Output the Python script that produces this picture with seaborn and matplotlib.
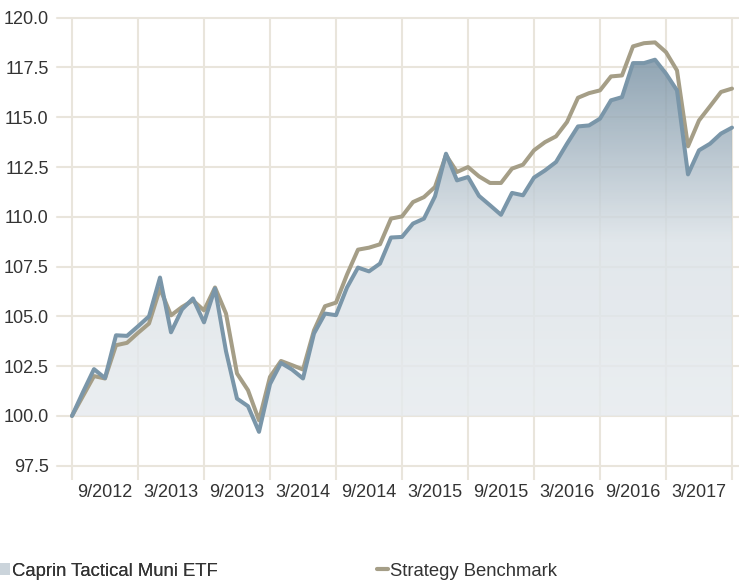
"""
Caprin Tactical Muni ETF vs Strategy Benchmark (growth of 100)
"""

import numpy as np
import pandas as pd
import matplotlib
matplotlib.use("Agg")
import matplotlib.pyplot as plt
import seaborn as sns
from matplotlib.colors import LinearSegmentedColormap
from matplotlib.patches import Patch
from matplotlib.lines import Line2D

# === Data (monthly, 6/2012 .. 6/2017) ===
months = list(range(61))
etf = [
    100.0, 101.2, 102.35, 101.9, 104.05, 104.02, 104.5, 105.0, 106.95, 104.2,
    105.35, 105.9, 104.7, 106.4, 103.25, 100.87, 100.49, 99.2, 101.6, 102.66,
    102.33, 101.88, 104.14, 105.14, 105.06, 106.45, 107.45, 107.26, 107.65, 108.96,
    108.99, 109.66, 109.91, 111.03, 113.17, 111.83, 112.0, 111.05, 110.58, 110.1,
    111.2, 111.08, 111.97, 112.33, 112.75, 113.67, 114.54, 114.59, 114.93, 115.85,
    116.01, 117.72, 117.72, 117.89, 117.19, 116.35, 112.13, 113.34, 113.67, 114.18,
    114.48,
]
benchmark = [
    100.0, 101.0, 102.0, 101.88, 103.55, 103.67, 104.17, 104.64, 106.4, 105.05,
    105.47, 105.8, 105.3, 106.45, 105.14, 102.13, 101.29, 99.78, 101.96, 102.76,
    102.55, 102.33, 104.3, 105.51, 105.69, 107.1, 108.35, 108.45, 108.62, 109.91,
    110.02, 110.74, 110.99, 111.5, 113.1, 112.25, 112.5, 112.03, 111.7, 111.7,
    112.42, 112.62, 113.34, 113.75, 114.04, 114.76, 115.98, 116.21, 116.35, 117.05,
    117.1, 118.56, 118.72, 118.76, 118.27, 117.35, 113.54, 114.84, 115.55, 116.27,
    116.44,
]
tick_labels = ["9/2012", "3/2013", "9/2013", "3/2014", "9/2014",
               "3/2015", "9/2015", "3/2016", "9/2016", "3/2017"]
y_ticks = [97.5, 100.0, 102.5, 105.0, 107.5, 110.0, 112.5, 115.0, 117.5, 120.0]

ETF_NAME = "Caprin Tactical Muni ETF"
BENCH_NAME = "Strategy Benchmark"
ETF_COLOR = "#7a96a9"
BENCH_COLOR = "#a59e87"
GRID = "#e9e5dc"
TEXT = "#333333"

df = pd.DataFrame({"month": months, ETF_NAME: etf, BENCH_NAME: benchmark})
long_df = df.melt(id_vars="month", var_name="series", value_name="value")

# === Figure ===
sns.set_style("white")
plt.rcParams["font.family"] = ["Liberation Sans", "DejaVu Sans"]

fig = plt.figure(figsize=(7.39, 5.82), dpi=100)
ax = fig.add_axes([57 / 739, 1 - 465.7 / 582, 682 / 739, (465.7 - 17.7) / 582])

# gradient area under the ETF line (threshold 100)
poly = ax.fill_between(df["month"], df[ETF_NAME], 100, facecolor="none", edgecolor="none")
cmap = LinearSegmentedColormap.from_list("fund", ["#e8ecef", "#dbe2e7", "#728c9f"])
grad = np.linspace(0, 1, 256).reshape(-1, 1)
im = ax.imshow(grad, extent=[0, 60, 99.0, 118.5], origin="lower", aspect="auto",
               cmap=cmap, alpha=0.82, zorder=1)
im.set_clip_path(poly.get_paths()[0], transform=ax.transData)

sns.lineplot(data=long_df, x="month", y="value", hue="series",
             hue_order=[BENCH_NAME, ETF_NAME],
             palette={BENCH_NAME: BENCH_COLOR, ETF_NAME: ETF_COLOR},
             linewidth=2.9, legend=False, ax=ax, zorder=3)
for ln in ax.get_lines():
    ln.set_solid_joinstyle("round")

# === Axes ===
ax.set_xlim(-15 / 11, 667 / 11)
ax.set_ylim(97.5, 120)
ax.set_xlabel("")
ax.set_ylabel("")

ax.set_xticks(range(3, 60, 6))
ax.set_xticklabels(tick_labels)
ax.set_xticks(range(0, 61, 6), minor=True)
ax.set_yticks(y_ticks)
ax.set_yticklabels([f"{v:.1f}" for v in y_ticks])

ax.tick_params(axis="x", which="major", length=0, pad=13, labelsize=13, labelcolor=TEXT)
ax.tick_params(axis="x", which="minor", length=10, width=1.5, color=GRID, bottom=True)
ax.tick_params(axis="y", which="major", length=0, pad=6, labelsize=13, labelcolor=TEXT)

ax.set_axisbelow(True)
ax.grid(False)
ax.grid(True, axis="y", which="major", color=GRID, linewidth=1.5)
ax.grid(True, axis="x", which="minor", color=GRID, linewidth=1.5)
for gl in ax.get_ygridlines():
    gl.set_clip_on(False)
sns.despine(ax=ax, left=True, bottom=True)

# === Legend ===
h1 = Patch(facecolor="#cbd4db", edgecolor="none")
h2 = Line2D([0], [0], color=BENCH_COLOR, linewidth=3)
leg1 = fig.legend([h1], [ETF_NAME], loc="center left", bbox_to_anchor=(0.0, 1 - 571 / 582),
                  frameon=False, borderpad=0, borderaxespad=0, handlelength=0.55,
                  handleheight=0.55, handletextpad=0.1, fontsize=13.3, labelcolor=TEXT)
leg2 = fig.legend([h2], [BENCH_NAME], loc="center left",
                  bbox_to_anchor=(377 / 739, 1 - 571 / 582),
                  frameon=False, borderpad=0, borderaxespad=0, handlelength=0.6,
                  handletextpad=0.1, fontsize=13.3, labelcolor=TEXT)
fig.add_artist(leg1)

fig.savefig("out.png", dpi=100)
plt.close(fig)
